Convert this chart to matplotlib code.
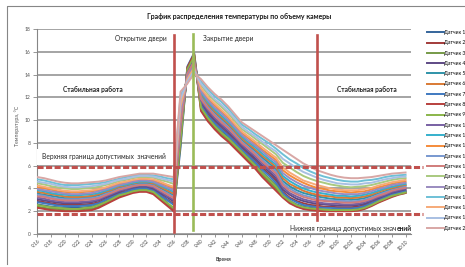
import matplotlib
matplotlib.use("Agg")
import matplotlib.pyplot as plt
import matplotlib.transforms as mtransforms
from matplotlib.lines import Line2D

plt.rcParams["font.family"] = ["Lato", "DejaVu Sans"]

# ---------- данные: температура датчиков, раз в минуту 9:16 ... 10:10 ----------
TICK_LABELS = ["9:16", "9:18", "9:20", "9:22", "9:24", "9:26", "9:28", "9:30",
               "9:32", "9:34", "9:36", "9:38", "9:40", "9:42", "9:44", "9:46",
               "9:48", "9:50", "9:52", "9:54", "9:56", "9:58", "10:00", "10:02",
               "10:04", "10:06", "10:08", "10:10"]

D1 = [2.6, 2.5, 2.4, 2.35, 2.3, 2.3, 2.3, 2.35, 2.4, 2.6, 2.85, 3.15, 3.4, 3.6, 3.8, 3.9, 3.9, 3.7, 3.25, 2.8, 2.0,
      7.6, 14.7, 15.9, 11.1, 10.3, 9.6, 9.0, 8.5, 7.9, 7.25, 6.7, 6.1, 5.4, 4.85, 4.3,
      3.4, 2.9, 2.6, 2.4, 2.3, 2.25, 2.15, 2.15, 2.15, 2.15, 2.15, 2.2, 2.35, 2.6, 2.85, 3.1, 3.35, 3.55, 3.7]
D2 = [2.9, 2.8, 2.7, 2.6, 2.55, 2.55, 2.55, 2.6, 2.65, 2.8, 3.05, 3.35, 3.6, 3.75, 3.95, 4.05, 4.05, 3.9, 3.5, 3.05, 2.65,
      8.85, 14.3, 15.4, 11.4, 10.55, 9.9, 9.3, 8.8, 8.15, 7.55, 7.0, 6.4, 5.8, 5.25, 4.7,
      3.7, 3.2, 2.9, 2.7, 2.55, 2.5, 2.4, 2.4, 2.35, 2.35, 2.35, 2.4, 2.55, 2.75, 3.05, 3.25, 3.5, 3.7, 3.8]
D3 = [2.4, 2.3, 2.2, 2.2, 2.1, 2.1, 2.1, 2.2, 2.2, 2.4, 2.7, 3.0, 3.3, 3.5, 3.7, 3.8, 3.8, 3.6, 3.1, 2.6, 2.15,
      8.0, 14.5, 15.7, 10.9, 10.05, 9.35, 8.8, 8.25, 7.65, 7.05, 6.45, 5.85, 5.2, 4.6, 4.0,
      3.3, 2.8, 2.45, 2.25, 2.15, 2.1, 2.05, 2.05, 2.05, 2.05, 2.05, 2.1, 2.25, 2.5, 2.8, 3.05, 3.3, 3.5, 3.6]
D4 = [3.05, 2.95, 2.85, 2.75, 2.7, 2.7, 2.7, 2.75, 2.8, 2.95, 3.2, 3.45, 3.7, 3.9, 4.05, 4.15, 4.15, 4.0, 3.6, 3.25, 2.85,
      9.1, 14.2, 15.3, 11.6, 10.75, 10.05, 9.5, 8.95, 8.35, 7.7, 7.15, 6.6, 6.0, 5.45, 4.9,
      3.9, 3.45, 3.1, 2.9, 2.75, 2.65, 2.6, 2.55, 2.5, 2.5, 2.5, 2.55, 2.65, 2.9, 3.15, 3.35, 3.6, 3.75, 3.9]
D5 = [3.55, 3.45, 3.35, 3.25, 3.15, 3.15, 3.15, 3.2, 3.25, 3.4, 3.6, 3.8, 4.05, 4.2, 4.35, 4.45, 4.45, 4.35, 4.05, 3.7, 3.4,
      10.0, 13.95, 15.0, 12.1, 11.3, 10.65, 10.1, 9.55, 8.9, 8.25, 7.75, 7.25, 6.7, 6.2, 5.7,
      4.65, 4.2, 3.85, 3.6, 3.45, 3.3, 3.2, 3.1, 3.05, 3.05, 3.0, 3.05, 3.15, 3.35, 3.55, 3.75, 3.95, 4.1, 4.25]
D6 = [3.7, 3.6, 3.5, 3.4, 3.3, 3.25, 3.25, 3.3, 3.35, 3.5, 3.7, 3.9, 4.15, 4.3, 4.45, 4.55, 4.55, 4.45, 4.15, 3.85, 3.55,
      10.25, 13.85, 14.9, 12.25, 11.45, 10.8, 10.25, 9.7, 9.05, 8.4, 7.9, 7.4, 6.85, 6.4, 5.9,
      4.9, 4.4, 4.1, 3.8, 3.6, 3.45, 3.35, 3.3, 3.2, 3.2, 3.15, 3.2, 3.3, 3.45, 3.7, 3.9, 4.05, 4.2, 4.3]
D7 = [2.8, 2.7, 2.6, 2.5, 2.45, 2.45, 2.45, 2.5, 2.55, 2.7, 3.0, 3.25, 3.5, 3.7, 3.9, 4.0, 4.0, 3.8, 3.4, 3.0, 2.55,
      8.6, 14.35, 15.5, 11.3, 10.4, 9.75, 9.2, 8.65, 8.05, 7.4, 6.85, 6.3, 5.65, 5.1, 4.5,
      3.6, 3.1, 2.8, 2.55, 2.45, 2.35, 2.3, 2.3, 2.25, 2.25, 2.25, 2.3, 2.45, 2.7, 2.95, 3.2, 3.45, 3.6, 3.75]
D8 = [2.3, 2.2, 2.1, 2.05, 2.0, 2.0, 2.0, 2.05, 2.1, 2.3, 2.6, 2.9, 3.2, 3.4, 3.6, 3.7, 3.7, 3.5, 3.0, 2.5, 2.0,
      8.4, 14.6, 15.8, 10.8, 9.9, 9.2, 8.6, 8.1, 7.5, 6.9, 6.3, 5.7, 5.0, 4.4, 3.8,
      3.2, 2.7, 2.4, 2.2, 2.1, 2.05, 2.0, 2.0, 2.0, 2.0, 2.0, 2.05, 2.2, 2.45, 2.75, 3.0, 3.25, 3.45, 3.6]
D9 = [2.55, 2.45, 2.35, 2.3, 2.25, 2.2, 2.2, 2.3, 2.35, 2.55, 2.8, 3.1, 3.4, 3.55, 3.75, 3.85, 3.85, 3.7, 3.2, 2.75, 2.3,
      8.3, 14.45, 15.6, 11.1, 10.2, 9.5, 8.9, 8.4, 7.8, 7.2, 6.6, 6.0, 5.35, 4.8, 4.2,
      3.35, 2.9, 2.55, 2.35, 2.25, 2.2, 2.15, 2.1, 2.1, 2.1, 2.1, 2.15, 2.3, 2.55, 2.85, 3.1, 3.35, 3.5, 3.65]
D10 = [3.2, 3.1, 2.95, 2.9, 2.8, 2.8, 2.8, 2.85, 2.9, 3.05, 3.3, 3.55, 3.8, 3.95, 4.15, 4.25, 4.25, 4.1, 3.75, 3.35, 3.0,
       9.35, 14.15, 15.25, 11.7, 10.9, 10.2, 9.65, 9.1, 8.5, 7.85, 7.3, 6.8, 6.2, 5.65, 5.1,
       4.1, 3.6, 3.3, 3.05, 2.9, 2.8, 2.7, 2.65, 2.65, 2.6, 2.6, 2.65, 2.8, 3.0, 3.25, 3.45, 3.7, 3.85, 4.0]
D11 = [3.85, 3.75, 3.6, 3.5, 3.45, 3.4, 3.4, 3.45, 3.5, 3.6, 3.8, 4.0, 4.25, 4.35, 4.5, 4.6, 4.6, 4.55, 4.25, 4.0, 3.7,
       10.5, 13.8, 14.85, 12.4, 11.6, 10.95, 10.4, 9.85, 9.2, 8.55, 8.05, 7.6, 7.05, 6.55, 6.1,
       5.1, 4.65, 4.3, 4.0, 3.8, 3.65, 3.55, 3.45, 3.35, 3.35, 3.3, 3.35, 3.45, 3.6, 3.8, 4.0, 4.15, 4.3, 4.4]
D12 = [4.1, 4.0, 3.9, 3.75, 3.7, 3.65, 3.65, 3.7, 3.75, 3.85, 4.0, 4.2, 4.4, 4.55, 4.65, 4.75, 4.75, 4.7, 4.45, 4.25, 4.0,
       10.95, 13.65, 14.65, 12.7, 11.9, 11.3, 10.75, 10.2, 9.5, 8.85, 8.4, 7.9, 7.4, 6.95, 6.5,
       5.6, 5.15, 4.8, 4.5, 4.25, 4.05, 3.95, 3.8, 3.75, 3.7, 3.65, 3.7, 3.75, 3.9, 4.1, 4.25, 4.4, 4.55, 4.6]
D13 = [3.45, 3.35, 3.2, 3.1, 3.05, 3.05, 3.05, 3.1, 3.15, 3.25, 3.5, 3.7, 3.95, 4.1, 4.25, 4.35, 4.35, 4.25, 3.9, 3.6, 3.25,
       9.8, 14.0, 15.1, 12.0, 11.15, 10.5, 9.95, 9.4, 8.75, 8.1, 7.6, 7.1, 6.5, 6.0, 5.5,
       4.45, 4.0, 3.65, 3.4, 3.25, 3.1, 3.0, 2.95, 2.9, 2.9, 2.85, 2.9, 3.0, 3.2, 3.45, 3.65, 3.85, 4.0, 4.15]
D14 = [3.3, 3.25, 3.1, 3.0, 2.95, 2.95, 2.95, 3.0, 3.05, 3.15, 3.4, 3.65, 3.9, 4.05, 4.2, 4.3, 4.3, 4.2, 3.85, 3.5, 3.15,
       9.6, 14.05, 15.15, 11.85, 11.05, 10.4, 9.8, 9.3, 8.65, 8.0, 7.5, 6.95, 6.35, 5.85, 5.3,
       4.3, 3.8, 3.5, 3.25, 3.1, 2.95, 2.9, 2.85, 2.8, 2.75, 2.75, 2.8, 2.9, 3.1, 3.35, 3.55, 3.8, 3.95, 4.05]
D15 = [4.45, 4.35, 4.2, 4.1, 4.0, 3.95, 3.95, 4.0, 4.05, 4.15, 4.3, 4.45, 4.65, 4.75, 4.9, 5.0, 5.0, 4.95, 4.75, 4.6, 4.4,
       11.55, 13.5, 14.45, 13.05, 12.3, 11.7, 11.15, 10.6, 9.9, 9.2, 8.8, 8.35, 7.9, 7.45, 7.0,
       6.25, 5.85, 5.45, 5.1, 4.85, 4.65, 4.5, 4.35, 4.25, 4.15, 4.1, 4.15, 4.2, 4.3, 4.45, 4.6, 4.75, 4.85, 4.9]
D16 = [3.95, 3.85, 3.75, 3.65, 3.55, 3.5, 3.5, 3.55, 3.6, 3.75, 3.9, 4.1, 4.3, 4.45, 4.6, 4.7, 4.7, 4.6, 4.35, 4.1, 3.85,
       10.7, 13.75, 14.75, 12.55, 11.75, 11.1, 10.6, 10.0, 9.35, 8.7, 8.2, 7.75, 7.25, 6.75, 6.3,
       5.35, 4.9, 4.55, 4.25, 4.05, 3.85, 3.75, 3.65, 3.55, 3.5, 3.5, 3.5, 3.6, 3.75, 3.95, 4.1, 4.3, 4.4, 4.5]
D17 = [4.8, 4.7, 4.55, 4.4, 4.3, 4.3, 4.3, 4.35, 4.4, 4.45, 4.55, 4.7, 4.85, 5.0, 5.1, 5.2, 5.2, 5.15, 5.05, 4.9, 4.8,
       12.15, 13.3, 14.2, 13.4, 12.7, 12.1, 11.6, 11.0, 10.3, 9.6, 9.2, 8.75, 8.35, 7.95, 7.5,
       7.0, 6.55, 6.2, 5.8, 5.5, 5.25, 5.05, 4.9, 4.75, 4.65, 4.6, 4.6, 4.7, 4.75, 4.85, 5.0, 5.1, 5.15, 5.2]
D18 = [4.25, 4.15, 4.0, 3.9, 3.8, 3.75, 3.75, 3.8, 3.85, 3.95, 4.1, 4.3, 4.5, 4.6, 4.75, 4.85, 4.85, 4.8, 4.6, 4.35, 4.15,
       11.2, 13.6, 14.6, 12.8, 12.05, 11.45, 10.9, 10.35, 9.65, 9.0, 8.55, 8.1, 7.6, 7.15, 6.7,
       5.85, 5.4, 5.05, 4.7, 4.5, 4.3, 4.15, 4.0, 3.9, 3.85, 3.85, 3.85, 3.95, 4.05, 4.25, 4.4, 4.55, 4.65, 4.75]
D19 = [4.6, 4.5, 4.4, 4.25, 4.15, 4.1, 4.1, 4.15, 4.2, 4.3, 4.4, 4.6, 4.75, 4.85, 5.0, 5.1, 5.1, 5.05, 4.9, 4.75, 4.6,
       11.85, 13.4, 14.35, 13.2, 12.5, 11.85, 11.35, 10.75, 10.1, 9.4, 8.95, 8.55, 8.1, 7.65, 7.25,
       6.6, 6.2, 5.8, 5.45, 5.2, 4.95, 4.75, 4.6, 4.45, 4.4, 4.35, 4.35, 4.45, 4.5, 4.65, 4.8, 4.9, 5.0, 5.05]
D20 = [5.0, 4.9, 4.75, 4.6, 4.5, 4.45, 4.45, 4.5, 4.55, 4.6, 4.7, 4.85, 5.0, 5.1, 5.2, 5.3, 5.3, 5.3, 5.2, 5.1, 5.0,
       12.5, 13.2, 14.1, 13.6, 12.9, 12.3, 11.8, 11.2, 10.5, 9.8, 9.4, 9.0, 8.6, 8.2, 7.8,
       7.4, 7.0, 6.6, 6.2, 5.9, 5.6, 5.4, 5.2, 5.05, 4.95, 4.9, 4.9, 4.95, 5.0, 5.1, 5.2, 5.3, 5.35, 5.4]

SENSORS = [D1, D2, D3, D4, D5, D6, D7, D8, D9, D10,
           D11, D12, D13, D14, D15, D16, D17, D18, D19, D20]
LABELS = [f"Датчик {i}" for i in range(1, 21)]

COLORS = ["#35659b", "#a23b3a", "#769a47", "#5e4a85", "#2f93a8",
          "#d97a34", "#3f79c0", "#b8403d", "#8ab54a", "#7860a3",
          "#35b0cc", "#f58b3a", "#7898cf", "#d07c7a", "#a9c97f",
          "#9a8bbf", "#6ec0d6", "#f6aa78", "#a8bfe2", "#d8a7a5"]

# события (индекс минуты от 9:16) и границы допустимых значений
DOOR_OPEN = 20.0      # 9:36
DOOR_CLOSE = 22.9     # ~9:39
STABLE_AGAIN = 41.0   # 9:57
UPPER_LIMIT = 5.85
LOWER_LIMIT = 1.8

RED = "#c0504d"
GREEN = "#9bbb59"
GRID = "#8c8c8c"
AXIS = "#868686"

W, H = 465, 267
fig = plt.figure(figsize=(W / 100, H / 100), dpi=100)
ax = fig.add_axes([37 / W, 1 - 234 / H, 374 / W, 205 / H])

minutes = list(range(len(D1)))
for vals, col, lab in zip(SENSORS, COLORS, LABELS):
    ax.plot(minutes, vals, color=col, lw=1.4, label=lab, zorder=3, solid_joinstyle="round")

ax.set_xlim(-0.05, 54.8)
ax.set_ylim(0, 18)
ax.set_yticks(range(0, 19, 2))
ax.set_xticks(range(0, 55, 2))
ax.set_xticklabels(TICK_LABELS, rotation=45, ha="right", rotation_mode="anchor")
ax.tick_params(axis="y", direction="out", length=3, width=0.6, color=AXIS,
               labelsize=3.6, labelcolor="#505050", pad=1.5)
ax.tick_params(axis="x", direction="out", length=2, width=0.6, color=AXIS,
               labelsize=3.4, labelcolor="#404040", pad=1.5)
ax.yaxis.grid(True, color=GRID, lw=1.1)
ax.set_axisbelow(True)
for side in ("top", "right"):
    ax.spines[side].set_visible(False)
for side in ("left", "bottom"):
    ax.spines[side].set_color(AXIS)
    ax.spines[side].set_linewidth(0.8)

# вертикальные линии событий
ax.plot([DOOR_OPEN, DOOR_OPEN], [0.2, 17.5], color=RED, lw=1.9, zorder=4, clip_on=False)
ax.plot([DOOR_CLOSE, DOOR_CLOSE], [0.35, 17.6], color=GREEN, lw=1.9, zorder=4, clip_on=False)
ax.plot([STABLE_AGAIN, STABLE_AGAIN], [1.2, 17.5], color=RED, lw=1.9, zorder=4, clip_on=False)

# границы допустимых значений
blend = mtransforms.blended_transform_factory(ax.transAxes, ax.transData)
for lim in (UPPER_LIMIT, LOWER_LIMIT):
    ax.plot([0, 1.032], [lim, lim], color=RED, lw=2.2, ls=(0, (2.0, 0.8)),
            transform=blend, clip_on=False, zorder=5)

txt = dict(fontsize=4.8, color="#262626", transform=ax.transAxes, va="center")
ax.text(0.348, 0.956, "Открытие двери", ha="right", **txt)
ax.text(0.444, 0.956, "Закрытие двери", ha="left", **txt)
ax.text(0.0695, 0.707, "Стабильная работа", ha="left", fontweight="bold", **txt)
ax.text(0.802, 0.707, "Стабильная работа", ha="left", fontweight="bold", **txt)
ax.text(0.0134, 0.376, "Верхняя граница допустимых  значений", ha="left", zorder=6,
        bbox=dict(fc="white", ec="none", pad=3.4), clip_on=False, **txt)
t_end = ax.text(1.003, 0.029, "ений", ha="right", fontweight="bold", clip_on=False, **txt)
ax.annotate("Нижняя граница допустимых знач", xy=(0, 0.5), xycoords=t_end,
            ha="right", va="center", fontsize=4.8, color="#262626", annotation_clip=False)

fig.text(239 / W, 1 - 17 / H, "График распределения температуры по объему камеры",
         ha="center", va="center", fontsize=5.0, fontweight="bold", color="#1a1a1a")
fig.text(17 / W, 1 - 126 / H, "Температура, °С", rotation=90, ha="center", va="center",
         fontsize=3.8, color="#595959")
fig.text(223 / W, 1 - 259 / H, "Время", ha="center", va="center",
         fontsize=3.8, fontweight="bold", color="#404040")

# легенда справа: как в оригинале, подписи обрезаны краем картинки
ax.legend(loc="upper left", bbox_to_anchor=(427 / W, 1 - 30 / H), bbox_transform=fig.transFigure,
          frameon=False, fontsize=3.6, handlelength=3.3, handletextpad=0.15,
          labelspacing=1.06, borderpad=0, borderaxespad=0)

# рамка области диаграммы
fig.add_artist(Line2D([7 / W, 7 / W, 1.0], [1 - 264 / H, 1 - 6 / H, 1 - 6 / H],
                      transform=fig.transFigure, color=AXIS, lw=0.8))

fig.savefig("out.png", dpi=100)
